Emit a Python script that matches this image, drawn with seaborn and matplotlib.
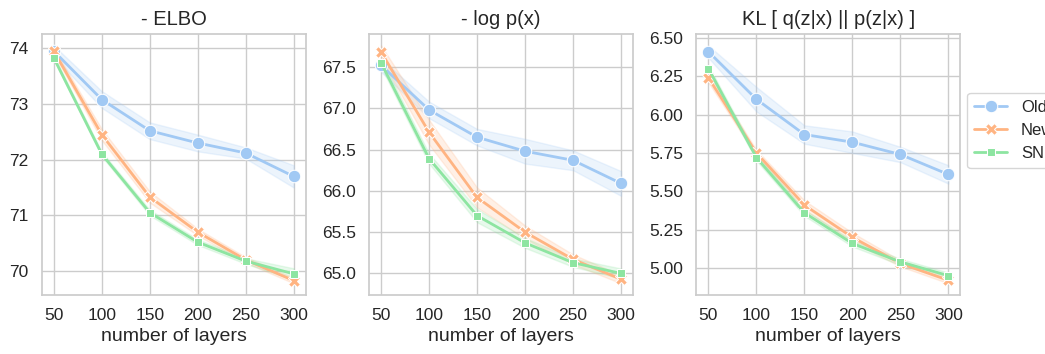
import numpy as np
import pandas as pd
import matplotlib
matplotlib.use("Agg")
import matplotlib.pyplot as plt
import seaborn as sns

# =====================================================
# DATA
# =====================================================

layers = [50, 100, 150, 200, 250, 300]
methods = ["Old", "New", "SNF"]

elbo_old = [73.95, 73.08, 72.52, 72.30, 72.12, 71.70]
elbo_new = [73.95, 72.45, 71.33, 70.70, 70.20, 69.83]
elbo_snf = [73.83, 72.10, 71.05, 70.52, 70.18, 69.95]
elbo_old_err = [0.10, 0.15, 0.15, 0.15, 0.10, 0.20]
elbo_new_err = [0.05, 0.10, 0.10, 0.06, 0.05, 0.05]
elbo_snf_err = [0.04, 0.04, 0.05, 0.05, 0.05, 0.10]

logp_old = [67.52, 66.98, 66.65, 66.48, 66.37, 66.09]
logp_new = [67.68, 66.71, 65.92, 65.50, 65.17, 64.93]
logp_snf = [67.55, 66.39, 65.70, 65.37, 65.13, 65.00]
logp_old_err = [0.08, 0.10, 0.10, 0.15, 0.12, 0.15]
logp_new_err = [0.08, 0.15, 0.12, 0.08, 0.06, 0.05]
logp_snf_err = [0.05, 0.06, 0.08, 0.06, 0.05, 0.06]

kl_old = [6.41, 6.10, 5.87, 5.82, 5.74, 5.61]
kl_new = [6.24, 5.75, 5.41, 5.20, 5.03, 4.92]
kl_snf = [6.30, 5.72, 5.36, 5.16, 5.04, 4.95]
kl_old_err = [0.04, 0.08, 0.06, 0.07, 0.05, 0.06]
kl_new_err = [0.03, 0.02, 0.03, 0.03, 0.02, 0.02]
kl_snf_err = [0.02, 0.02, 0.02, 0.02, 0.02, 0.02]

titles = ["- ELBO", "- log p(x)", "KL [ q(z|x) || p(z|x) ]"]


# =====================================================
# LONG FORMAT (two replicates -> band between them)
# =====================================================

def make_frame(means, errs):
    rows = []
    for method, mean, err in zip(methods, means, errs):
        for n, m, e in zip(layers, mean, err):
            rows.append({"layers": n, "value": m - e, "method": method})
            rows.append({"layers": n, "value": m + e, "method": method})
    return pd.DataFrame(rows)


frames = [
    make_frame([elbo_old, elbo_new, elbo_snf], [elbo_old_err, elbo_new_err, elbo_snf_err]),
    make_frame([logp_old, logp_new, logp_snf], [logp_old_err, logp_new_err, logp_snf_err]),
    make_frame([kl_old, kl_new, kl_snf], [kl_old_err, kl_new_err, kl_snf_err]),
]


# =====================================================
# PLOT
# =====================================================

sns.set_theme(style="whitegrid", palette="pastel", font_scale=1.1)
plt.rcParams["font.family"] = ["Liberation Sans", "DejaVu Sans"]

fig, axes = plt.subplots(1, 3, figsize=(10.45, 3.54), dpi=100)
fig.subplots_adjust(left=0.04, right=0.919, top=0.905, bottom=0.166, wspace=0.24)

for i, (ax, df) in enumerate(zip(axes, frames)):
    sns.lineplot(
        data=df, x="layers", y="value",
        hue="method", style="method",
        markers=True, dashes=False, markersize=9,
        errorbar=("pi", 100), linewidth=2,
        ax=ax
    )
    ax.set_title(titles[i], fontsize=14.5)
    ax.set_xlabel("number of layers", fontsize=14, labelpad=3)
    ax.set_ylabel("")
    ax.set_xticks(layers)
    ax.tick_params(labelsize=12.5)
    handles, labels = ax.get_legend_handles_labels()
    ax.get_legend().remove()

axes[1].set_yticks([65.0, 65.5, 66.0, 66.5, 67.0, 67.5])
axes[1].yaxis.set_major_formatter(matplotlib.ticker.FormatStrFormatter("%.1f"))
axes[2].yaxis.set_major_formatter(matplotlib.ticker.FormatStrFormatter("%.2f"))

axes[2].legend(handles, labels, loc="center left", bbox_to_anchor=(1.027, 0.63),
               borderaxespad=0, fontsize=12)

fig.savefig("out.png", dpi=100)
